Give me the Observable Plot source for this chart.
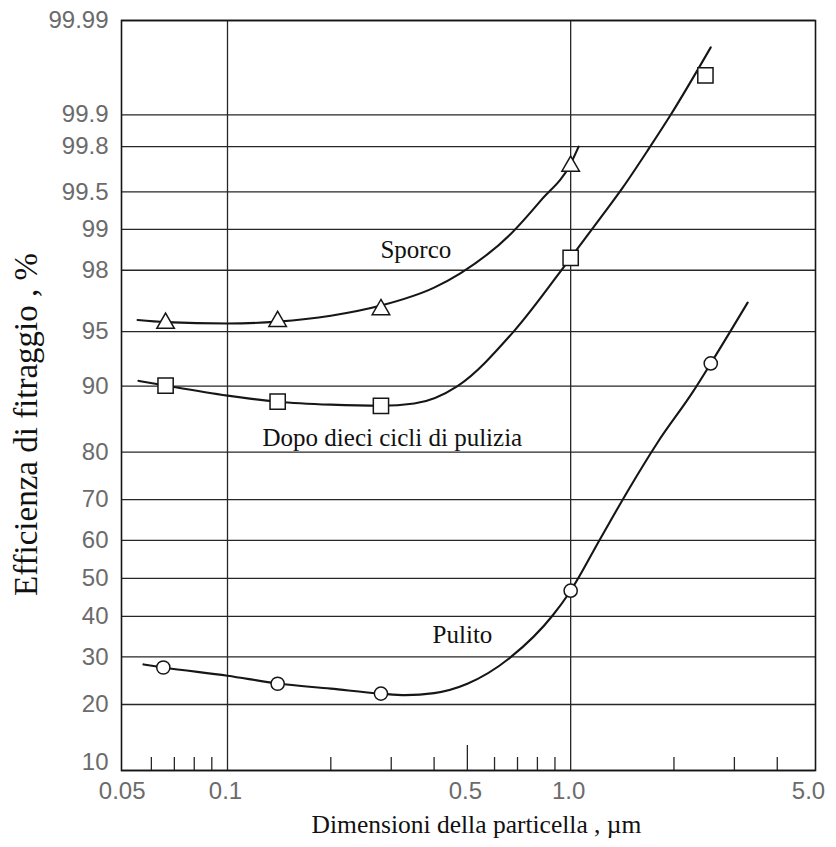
<!DOCTYPE html>
<html>
<head>
<meta charset="utf-8">
<script src="https://cdn.jsdelivr.net/npm/d3@7"></script>
<script src="https://cdn.jsdelivr.net/npm/@observablehq/plot@0.6"></script>
<style>
  html, body { margin: 0; padding: 0; background: #fff; }
</style>
</head>
<body>
<div id="chart"></div>
<script>
// ---- tick labels / axis data ----
const yTickLabels = ["10","20","30","40","50","60","70","80","90","95","98","99","99.5","99.8","99.9","99.99"];
const xTickValues = [0.05, 0.1, 0.5, 1.0, 5.0];
const xTickLabels = ["0.05", "0.1", "0.5", "1.0", "5.0"];
const xGridValues = [0.1, 1.0];
const xMinorTicks = [0.06, 0.07, 0.08, 0.09, 0.2, 0.3, 0.4, 0.6, 0.7, 0.8, 0.9, 2, 3, 4];
const xMajorTicks = [0.5];

// ---- measured points (particle size µm, efficiency %) ----
const sporcoPtX = [0.066, 0.14, 0.28, 1.0];
const sporcoPtY = [95.55, 95.66, 96.34, 99.70];
const dopoPtX   = [0.066, 0.14, 0.28, 1.0, 2.47];
const dopoPtY   = [90.06, 88.05, 87.5, 98.37, 99.96];
const pulitoPtX = [0.065, 0.14, 0.28, 1.0, 2.56];
const pulitoPtY = [27.6, 24.1, 22.1, 46.7, 92.4];

// ---- fitted curves ----
const sporcoCurveX = [0.0547, 0.066, 0.1, 0.14, 0.2, 0.28, 0.4, 0.477, 0.67, 0.818, 1.0, 1.055];
const sporcoCurveY = [95.75, 95.62, 95.53, 95.65, 96.0, 96.55, 97.37, 97.9, 98.92, 99.41, 99.715, 99.8];
const dopoCurveX = [0.055, 0.066, 0.1, 0.14, 0.2, 0.28, 0.35, 0.468, 0.682, 1.0, 1.223, 1.418, 1.688, 1.957, 2.56];
const dopoCurveY = [90.6, 90.06, 88.84, 88.05, 87.65, 87.5, 87.8, 90.0, 95.0, 98.37, 99.19, 99.54, 99.79, 99.90, 99.98];
const pulitoCurveX = [0.0569, 0.065, 0.1, 0.14, 0.2, 0.28, 0.33, 0.4, 0.5, 0.67, 0.886, 1.0, 1.22, 1.47, 1.79, 2.27, 2.56, 3.28];
const pulitoCurveY = [28.3, 27.6, 25.8, 24.15, 23.1, 22.1, 21.8, 22.2, 24.1, 30, 40.2, 46.7, 60.4, 72.1, 81.7, 89.3, 92.4, 96.7];

// ---- labels ----
const seriesLabels = ["Sporco", "Dopo dieci cicli di pulizia", "Pulito"];
const seriesLabelX = [0.279, 0.1265, 0.396];
const seriesLabelY = [98.376, 81.2, 33.2];
const xTitle = "Dimensioni della particella , µm";
const yTitle = "Efficienza di fitraggio , %";

// inverse normal CDF (probability-paper scale)
function probit(p) {
  const a=[-3.969683028665376e+01,2.209460984245205e+02,-2.759285104469687e+02,1.383577518672690e+02,-3.066479806614716e+01,2.506628277459239e+00];
  const b=[-5.447609879822406e+01,1.615858368580409e+02,-1.556989798598866e+02,6.680131188771972e+01,-1.328068155288572e+01];
  const c=[-7.784894002430293e-03,-3.223964580411365e-01,-2.400758277161838e+00,-2.549671010229583e+00,4.374664141464968e+00,2.938163982698783e+00];
  const d=[7.784695709041462e-03,3.224671290700398e-01,2.445134137142996e+00,3.754408661907416e+00];
  const pl = 0.02425, ph = 1 - pl;
  let q, r;
  if (p < pl) { q = Math.sqrt(-2*Math.log(p)); return (((((c[0]*q+c[1])*q+c[2])*q+c[3])*q+c[4])*q+c[5])/((((d[0]*q+d[1])*q+d[2])*q+d[3])*q+1); }
  if (p <= ph) { q = p - 0.5; r = q*q; return (((((a[0]*r+a[1])*r+a[2])*r+a[3])*r+a[4])*r+a[5])*q/(((((b[0]*r+b[1])*r+b[2])*r+b[3])*r+b[4])*r+1); }
  q = Math.sqrt(-2*Math.log(1-p)); return -(((((c[0]*q+c[1])*q+c[2])*q+c[3])*q+c[4])*q+c[5])/((((d[0]*q+d[1])*q+d[2])*q+d[3])*q+1);
}
const z = pct => probit(pct / 100);

const zip = (xs, ys) => xs.map((x, i) => ({x, p: ys[i]}));
const sporcoPts = zip(sporcoPtX, sporcoPtY);
const dopoPts = zip(dopoPtX, dopoPtY);
const pulitoPts = zip(pulitoPtX, pulitoPtY);
const sporcoCurve = zip(sporcoCurveX, sporcoCurveY);
const dopoCurve = zip(dopoCurveX, dopoCurveY);
const pulitoCurve = zip(pulitoCurveX, pulitoCurveY);
const labels = seriesLabels.map((t, i) => ({t, x: seriesLabelX[i], p: seriesLabelY[i]}));
const xTicks = xTickValues.map((v, i) => ({v, t: xTickLabels[i]}));

const ink = "#161616";
const grid = "#262626";
const tickFont = "'Liberation Sans', Arial, Helvetica, sans-serif";
const serif = "'Liberation Serif', 'Times New Roman', serif";
const lineOpts = {x: "x", y: d => z(d.p), curve: "monotone-x", stroke: ink, strokeWidth: 2.1};
const dotOpts = {x: "x", y: d => z(d.p), fill: "white", stroke: ink, strokeWidth: 1.5};

const chart = Plot.plot({
  width: 836,
  height: 847,
  marginLeft: 121,
  marginRight: 21,
  marginTop: 20,
  marginBottom: 77,
  style: {background: "white", overflow: "visible"},
  x: {type: "log", domain: [0.0491, 5.17], axis: null},
  y: {type: "linear", domain: [z(10), z(99.99)], axis: null},
  marks: [
    Plot.ruleY(yTickLabels, {y: d => z(+d), stroke: grid, strokeWidth: 1.3}),
    Plot.ruleX(xGridValues, {x: d => d, stroke: grid, strokeWidth: 1.3}),
    Plot.tickX(xMinorTicks, {x: d => d, stroke: grid, strokeWidth: 1.3, insetTop: 737}),
    Plot.tickX(xMajorTicks, {x: d => d, stroke: grid, strokeWidth: 1.3, insetTop: 725}),
    Plot.frame({stroke: ink, strokeWidth: 1.6}),
    Plot.line(sporcoCurve, lineOpts),
    Plot.line(dopoCurve, lineOpts),
    Plot.line(pulitoCurve, lineOpts),
    Plot.dot(sporcoPts, {...dotOpts, symbol: "triangle", r: 6.5}),
    Plot.dot(dopoPts, {...dotOpts, symbol: "square", r: 8.6}),
    Plot.dot(pulitoPts, {...dotOpts, symbol: "circle", r: 6.6}),
    // y tick labels
    Plot.text(yTickLabels.filter(d => d !== "10"), {
      frameAnchor: "left", y: d => z(+d), text: d => d, textAnchor: "end", dx: -13,
      fontFamily: tickFont, fontSize: 24, fill: "#6b6b6b"
    }),
    Plot.text(yTickLabels.filter(d => d === "10"), {
      frameAnchor: "left", y: d => z(+d), text: d => d, textAnchor: "end", dx: -13, dy: -8,
      fontFamily: tickFont, fontSize: 24, fill: "#6b6b6b"
    }),
    // x tick labels
    Plot.text(xTicks, {
      x: "v", frameAnchor: "bottom", text: "t", textAnchor: "middle", lineAnchor: "middle", dy: 21, dx: -2,
      fontFamily: tickFont, fontSize: 24, fill: "#6b6b6b"
    }),
    // series labels
    Plot.text(labels, {
      x: "x", y: d => z(d.p), text: "t", textAnchor: "start", lineAnchor: "bottom",
      fontFamily: serif, fontSize: 25, fill: "#111"
    }),
    // axis titles
    Plot.text([xTitle], {
      frameAnchor: "bottom", text: d => d, textAnchor: "middle", lineAnchor: "bottom", dx: 8, dy: 62,
      fontFamily: serif, fontSize: 25.5, fill: "#111"
    }),
    Plot.text([yTitle], {
      frameAnchor: "left", text: d => d, textAnchor: "middle", lineAnchor: "middle", rotate: -90, dx: -95.5, dy: 29,
      fontFamily: serif, fontSize: 33, fill: "#111"
    })
  ]
});

document.getElementById("chart").appendChild(chart);
</script>
</body>
</html>
